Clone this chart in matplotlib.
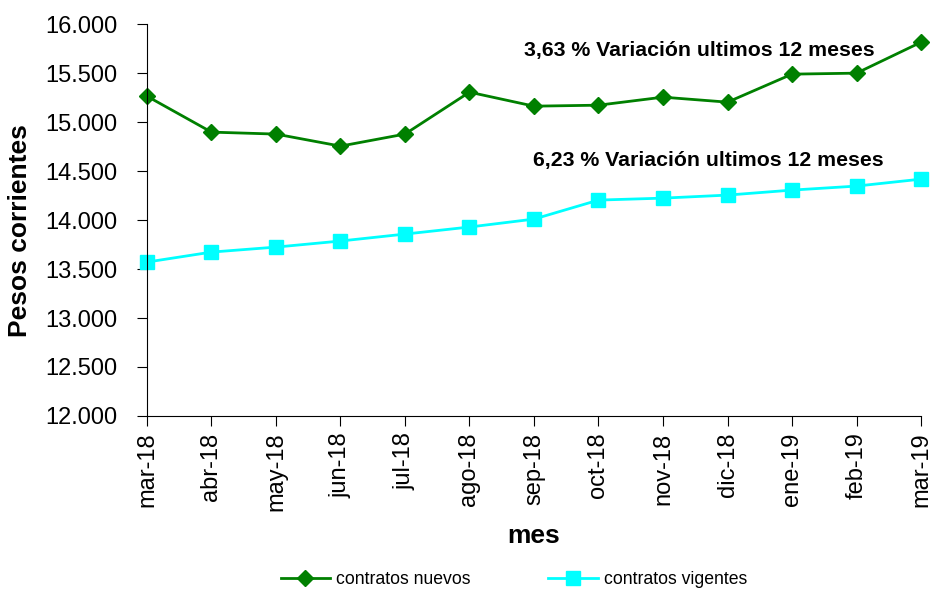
import matplotlib.pyplot as plt
from matplotlib.ticker import FuncFormatter

plt.rcParams['font.family'] = ['Liberation Sans', 'DejaVu Sans']

meses = ["mar-18", "abr-18", "may-18", "jun-18", "jul-18", "ago-18", "sep-18",
         "oct-18", "nov-18", "dic-18", "ene-19", "feb-19", "mar-19"]
nuevos = [15265, 14898, 14878, 14755, 14878, 15306, 15163,
          15173, 15255, 15204, 15490, 15500, 15816]
vigentes = [13571, 13673, 13724, 13786, 13857, 13929, 14010,
            14204, 14224, 14255, 14306, 14347, 14418]

fig = plt.figure(figsize=(9.36, 5.9), dpi=100)
ax = fig.add_axes([0.157, 0.295, 0.827, 0.664])

x = range(len(meses))
ax.plot(x, nuevos, color="#008000", lw=2, marker="D", ms=8, label="contratos nuevos", clip_on=False)
ax.plot(x, vigentes, color="#00FFFF", lw=2, marker="s", ms=10, label="contratos vigentes", clip_on=False)

ax.set_xlim(0, 12)
ax.set_ylim(12000, 16000)
ax.set_yticks(range(12000, 16001, 500))
ax.yaxis.set_major_formatter(FuncFormatter(lambda v, p: f"{int(v):,}".replace(",", ".")))
ax.set_xticks(list(x))
ax.set_xticklabels(meses, rotation=90)
ax.tick_params(axis="both", labelsize=17, direction="out", length=7)
ax.tick_params(axis="y", pad=14)
ax.tick_params(axis="x", pad=5)

for s in ["top", "right"]:
    ax.spines[s].set_visible(False)

ax.set_ylabel("Pesos corrientes", fontsize=19, fontweight="bold")
ax.set_xlabel("mes", fontsize=19, fontweight="bold")
ax.yaxis.set_label_coords(-0.149, 0.474)
ax.xaxis.set_label_coords(0.5, -0.2755)

ax.text(8.57, 15735, "3,63 % Variación ultimos 12 meses", ha="center", va="center",
        fontsize=15.3, fontweight="bold")
ax.text(8.70, 14612, "6,23 % Variación ultimos 12 meses", ha="center", va="center",
        fontsize=15.3, fontweight="bold")

fig.legend(loc="center", ncol=2, frameon=False, fontsize=12.7,
           bbox_to_anchor=(0.549, 0.018), columnspacing=4.4, handlelength=2.8,
           handletextpad=0.35)

fig.savefig("out.png", dpi=100)
